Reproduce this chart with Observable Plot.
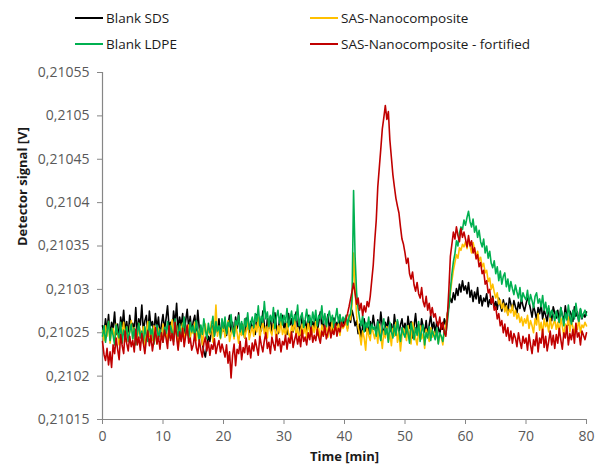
<!DOCTYPE html>
<html><head><meta charset="utf-8">
<script src="https://cdn.jsdelivr.net/npm/d3@7"></script>
<script src="https://cdn.jsdelivr.net/npm/@observablehq/plot@0.6"></script>
<style>
body{margin:0;background:#fff;font-family:"Open Sans",sans-serif}
#wrap{position:relative;width:607px;height:470px;overflow:hidden}
#legend{position:absolute;left:0;top:0;width:607px;height:55px}
.item{position:absolute;font-size:13.5px;color:#1a1a1a;display:flex;align-items:center;height:18px;white-space:nowrap}
.sw{width:28px;height:1.6px;margin-right:3px}
#chart{position:absolute;left:0;top:55px}
</style></head>
<body><div id="wrap"><div id="legend"></div><div id="chart"></div></div>
<script>
// Signal values in microvolts above 0.21 V; each inner row covers 5 min sampled every 0.25 min
const seriesNames = ["Blank SDS", "SAS-Nanocomposite", "Blank LDPE", "SAS-Nanocomposite - fortified"];
const seriesColors = ["#000000", "#FFC000", "#00B050", "#C00000"];
const xTicks = [0,10,20,30,40,50,60,70,80];
const yTicks = [0.21015,0.2102,0.21025,0.2103,0.21035,0.2104,0.21045,0.2105,0.21055];

const blankSDS = [
[258,249,266,252,271,245,262,255,274,248,260,243,268,257,276,250,263,247,270,256],
[261,252,279,248,266,259,282,251,264,270,247,275,258,263,249,272,255,268,246,260],
[271,254,266,281,257,262,249,275,260,284,253,268,258,272,247,264,277,255,269,250],
[263,270,252,276,255,249,238,228,222,235,246,240,252,258,247,262,250,266,248,258],
[252,264,247,259,270,251,262,246,268,255,273,249,261,256,244,267,258,250,263,254],
[260,248,271,257,264,252,275,259,247,266,255,269,250,262,273,256,249,265,258,270],
[254,263,248,272,259,266,251,260,274,255,262,247,269,257,264,252,270,258,249,263],
[256,268,251,262,274,257,265,249,260,271,255,263,250,267,258,262,253,270,257,264],
[259,266,255,270,262,276,268,258,264,249,260,245,257,266,252,261,248,263,255,270],
[257,249,265,253,274,258,246,262,255,268,251,260,247,271,256,263,250,259,266,252],
[261,248,269,255,263,244,258,272,253,260,249,266,257,251,264,247,259,270,254,262],
[250,263,256,248,261,254,266,258,272,281,290,285,296,288,301,293,306,297,310,299],
[304,295,308,291,299,286,297,289,302,284,293,281,290,286,295,280,288,283,292,279],
[286,277,290,282,275,288,279,284,271,290,283,276,287,280,273,285,278,289,281,275],
[283,290,286,277,268,281,274,265,279,272,283,266,276,270,262,278,271,264,280,273],
[267,276,262,279,270,264,281,268,259,275,271,263,280,269,274,261,277,266,272,268],
[274]];

const sasNano = [
[252,241,258,246,263,238,251,255,243,260,247,236,254,249,262,240,257,245,251,264],
[243,256,249,238,261,252,244,257,235,250,263,246,253,241,258,248,237,255,250,244],
[260,247,253,239,256,249,265,243,251,258,232,246,254,261,240,252,247,259,243,255],
[249,262,241,253,247,258,236,250,260,244,255,248,263,239,252,282,246,257,243,251],
[258,245,252,264,240,249,256,243,261,250,238,254,247,259,244,252,265,242,250,257],
[246,259,251,268,243,255,262,249,257,244,266,252,247,260,254,241,258,250,263,248],
[255,246,261,250,243,258,252,265,247,256,241,253,260,249,257,244,262,251,246,258],
[250,263,247,255,242,259,253,248,261,245,256,251,264,249,257,253,260,247,262,255],
[258,263,252,270,265,282,342,300,270,256,248,236,252,244,230,256,247,241,258,250],
[243,254,238,260,247,232,252,244,257,240,249,235,255,246,262,239,251,229,247,255],
[250,241,258,246,237,262,253,244,236,251,258,243,249,232,254,247,240,256,245,251],
[243,253,238,249,245,236,252,258,270,284,296,310,322,331,340,336,348,345,352,349],
[355,347,358,350,342,354,346,338,344,333,337,326,330,319,322,309,313,300,306,297],
[290,296,283,288,278,284,274,281,270,277,273,282,269,276,266,272,262,268,258,266],
[261,270,255,264,258,250,266,259,272,253,262,248,266,257,262,251,268,255,260,265],
[254,262,249,267,258,246,260,255,268,251,263,257,248,261,254,266,250,259,256,262],
[258]];

const blankLDPE = [
[246,258,239,252,263,241,255,247,236,259,250,244,262,238,253,245,257,240,251,260],
[243,255,236,249,261,244,252,238,257,246,240,263,248,255,237,250,259,242,254,247],
[239,256,249,263,244,258,251,240,266,253,246,260,242,255,268,249,257,243,262,251],
[258,245,264,252,240,259,248,266,254,243,261,250,257,269,246,263,252,258,244,266],
[255,268,249,262,257,271,253,246,264,259,270,251,263,248,266,257,273,254,261,268],
[256,272,263,281,258,269,262,286,266,274,257,270,263,279,255,268,276,261,272,259],
[270,262,278,257,266,275,260,271,264,282,258,268,273,256,265,277,262,270,259,274],
[263,276,258,270,266,281,261,272,257,268,275,263,270,256,267,278,262,271,258,268],
[263,270,259,268,272,290,414,338,296,278,266,258,270,251,262,256,268,249,260,254],
[257,246,263,250,241,258,266,248,255,239,262,251,244,259,247,265,252,240,256,249],
[245,258,250,238,261,253,242,256,247,263,240,252,259,236,250,244,257,241,253,247],
[242,255,237,250,246,240,253,248,262,279,300,318,332,341,356,350,365,372,369,380],
[374,383,390,378,372,381,366,373,360,368,355,349,358,342,350,336,344,330,325,333],
[318,326,310,321,306,315,319,303,312,298,309,301,294,305,297,290,302,286,296,291],
[288,299,283,294,287,279,292,296,284,289,280,293,276,285,272,281,268,276,271,264],
[275,268,262,279,270,258,273,265,282,269,260,276,266,284,271,263,278,267,272,276],
[270]];

const sasFortified = [
[240,225,218,232,213,228,210,236,226,244,231,219,248,235,226,252,238,229,246,234],
[241,228,254,236,245,230,249,238,226,243,252,235,247,229,241,256,237,246,231,250],
[239,253,244,232,258,241,249,236,262,245,230,251,240,255,234,247,259,238,244,230],
[236,249,233,226,242,230,222,238,245,229,240,224,236,231,243,226,235,241,228,237],
[230,222,236,215,228,198,224,237,212,231,226,240,219,233,227,244,225,235,221,238],
[229,242,233,224,246,236,228,241,250,232,239,226,245,237,230,248,235,243,228,240],
[236,247,231,244,238,251,233,242,249,237,246,234,253,240,245,236,250,242,256,239],
[247,241,254,245,238,252,246,258,243,250,257,244,253,248,260,246,255,251,262,257],
[260,266,272,280,289,298,307,295,283,290,276,284,270,281,274,286,280,292,310,328],
[356,380,418,440,462,485,498,512,496,505,472,452,432,418,405,396,388,372,358,352],
[342,330,336,318,312,320,305,298,308,295,290,302,286,280,292,276,284,270,279,268],
[272,262,258,268,254,262,250,246,268,300,338,352,366,358,372,362,355,370,360,366],
[358,349,362,350,356,342,348,335,340,326,331,318,322,306,310,296,300,284,290,276],
[280,266,272,258,264,250,260,246,256,241,252,238,249,244,234,250,240,232,246,238],
[244,230,248,236,226,242,235,250,228,244,238,254,233,246,229,240,252,236,247,232],
[248,238,255,242,231,250,244,258,236,249,242,254,238,261,245,250,236,252,247,242],
[250]];

const seriesRows = [blankSDS, sasNano, blankLDPE, sasFortified];

function toRecords(rows) {
  const out = [];
  rows.forEach((row, r) => row.forEach((v, j) => out.push({t: r * 5 + j * 0.25, v: 0.21 + v * 1e-6})));
  return out;
}

// Legend (HTML, above the SVG)
const legendPos = [[75, 9], [310, 9], [75, 35], [310, 35]];
const legend = document.getElementById("legend");
seriesNames.forEach((name, i) => {
  const d = document.createElement("div");
  d.className = "item";
  d.style.left = legendPos[i][0] + "px";
  d.style.top = legendPos[i][1] + "px";
  d.innerHTML = `<span class="sw" style="background:${seriesColors[i]}"></span><span>${name}</span>`;
  legend.appendChild(d);
});

const fmt = d => String(+d.toFixed(5)).replace(".", ",");

const lineMarks = seriesRows.map((rows, i) =>
  Plot.line(toRecords(rows), {x: "t", y: "v", stroke: seriesColors[i], strokeWidth: 1.6})
);

const chart = Plot.plot({
  width: 607, height: 415,
  marginLeft: 102, marginRight: 21, marginTop: 17, marginBottom: 51,
  style: {fontFamily: "Open Sans, sans-serif", fontSize: "14px", background: "white"},
  x: {domain: [0, 80]},
  y: {domain: [0.21015, 0.21055]},
  marks: [
    Plot.axisX({ticks: xTicks, tickSize: 5, tickPadding: 7, stroke: "#868686", fill: "#595959", label: null, fontSize: 14}),
    Plot.axisY({ticks: yTicks, tickSize: 5, tickPadding: 8, tickFormat: fmt, stroke: "#868686", fill: "#595959", label: null, fontSize: 14}),
    Plot.ruleX([0], {stroke: "#868686", strokeWidth: 1.2}),
    Plot.ruleY([0.21015], {stroke: "#868686", strokeWidth: 1.2}),
    ...lineMarks,
    Plot.text(["Detector signal [V]"], {text: d => d, frameAnchor: "left", rotate: -90, dx: -80, fontWeight: "bold", fill: "#1a1a1a", fontSize: 13}),
    Plot.text(["Time [min]"], {text: d => d, frameAnchor: "bottom", dy: 41, fontWeight: "bold", fill: "#1a1a1a", fontSize: 13})
  ]
});
document.getElementById("chart").appendChild(chart);
</script>
</body></html>
